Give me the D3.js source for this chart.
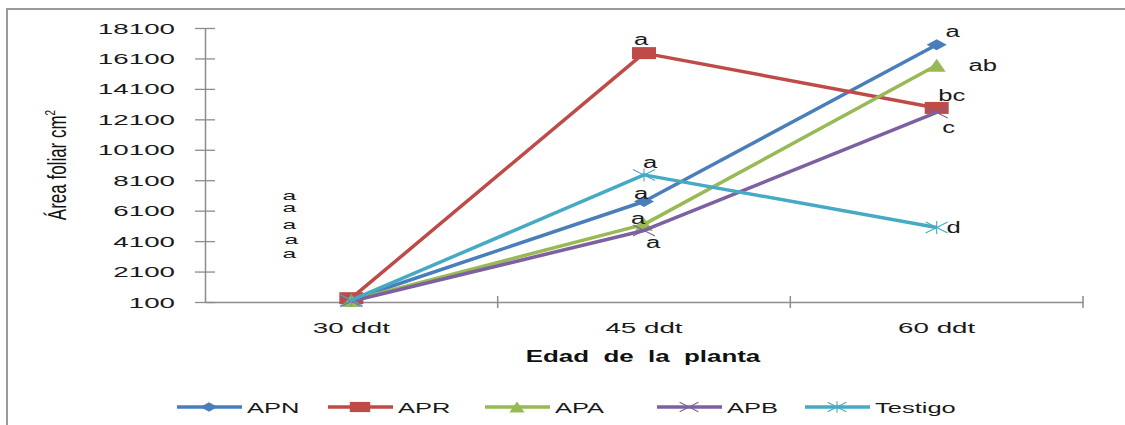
<!DOCTYPE html>
<html>
<head>
<meta charset="utf-8">
<script src="https://cdn.jsdelivr.net/npm/d3@7"></script>
<style>
  html, body { margin: 0; padding: 0; background: #ffffff; }
  svg { display: block; }
  text { white-space: pre; }
</style>
</head>
<body>
<svg id="chart" width="1125" height="425"></svg>
<script>
// ---------------- data ----------------
const categories = ["30 ddt", "45 ddt", "60 ddt"];
const seriesNames = ["APN", "APR", "APA", "APB", "Testigo"];
const APN     = [250, 6700, 17000];
const APR     = [350, 16450, 12850];
const APA     = [200, 5200, 15650];
const APB     = [150, 4800, 12550];
const Testigo = [220, 8450, 5000];
const lettersAPN     = ["a", "a", "a"];
const lettersAPR     = ["a", "a", "bc"];
const lettersAPA     = ["a", "a", "ab"];
const lettersAPB     = ["a", "a", "c"];
const lettersTestigo = ["a", "a", "d"];
const yTickValues = [100, 2100, 4100, 6100, 8100, 10100, 12100, 14100, 16100, 18100];
const yTitle = "Área foliar cm";
const xTitle = "Edad  de  la  planta";

// ---------------- styles / layout ----------------
const colors = { APN: "#4a7ebb", APR: "#be4b48", APA: "#98b954", APB: "#7d60a0", Testigo: "#46aac5" };
const markers = { APN: "diamond", APR: "square", APA: "triangle", APB: "x", Testigo: "star" };
// label offsets (px) relative to each point: [dx, dy] per category
const labelOffsets = {
  APN:     [[-62, -104], [-3, -8],  [16, -13]],
  APR:     [[-62, -90],  [-3, -13], [15, -12]],
  APA:     [[-62, -75],  [-6, -5],  [46, 1]],
  APB:     [[-60, -61],  [9, 13],   [12, 16]],
  Testigo: [[-62, -46],  [6, -12],  [17, 1]]
};
const SX = 1.78; // horizontal stretch of text (original picture is stretched)

const svg = d3.select("#chart");
const axisColor = "#8c8c8c";

// frame
svg.append("path").attr("d", "M7,425 L7,9 L1125,9").attr("fill", "none")
   .attr("stroke", "#9a9a9a").attr("stroke-width", 2);

const x = d3.scaleBand().domain(categories).range([205, 1083]);
const y = d3.scaleLinear().domain([100, 18100]).range([302, 28]);
const cx = c => x(c) + x.bandwidth() / 2;

function stretchedText(g, tx, ty, str, opts) {
  const t = g.append("text")
    .attr("transform", `translate(${tx},${ty}) scale(${opts.sx || SX},1)`)
    .attr("text-anchor", opts.anchor || "middle")
    .attr("font-family", opts.family || "'Liberation Sans', Arial, sans-serif")
    .attr("font-size", opts.size || 15)
    .attr("font-weight", opts.weight || "normal")
    .attr("fill", opts.fill || "#1a1a1a")
    .text(str);
  return t;
}

// y axis
const yAxisG = svg.append("g").attr("transform", "translate(205,0)")
  .call(d3.axisLeft(y).tickValues(yTickValues).tickSize(0).tickFormat(""));
yAxisG.select(".domain").attr("stroke", axisColor).attr("stroke-width", 1.5);
yAxisG.selectAll(".tick").append("line").attr("x1", -10).attr("x2", 10)
  .attr("stroke", axisColor).attr("stroke-width", 1.3);
yTickValues.forEach(v => {
  stretchedText(svg, 175, y(v) + 5.5, d3.format("d")(v), { anchor: "end", size: 15, sx: 1.85 });
});

// x axis
const xAxisG = svg.append("g").attr("transform", "translate(0,302)")
  .call(d3.axisBottom(x).tickSize(0).tickFormat(""));
xAxisG.select(".domain").attr("stroke", axisColor).attr("stroke-width", 1.5);
xAxisG.selectAll(".tick").remove();
const bounds = categories.map(c => x(c)).concat([x(categories[categories.length - 1]) + x.bandwidth()]);
bounds.slice(1).forEach(b => {
  svg.append("line").attr("x1", b).attr("x2", b).attr("y1", 296).attr("y2", 308)
    .attr("stroke", axisColor).attr("stroke-width", 1.5);
});
categories.forEach(c => stretchedText(svg, cx(c), 333, c, { size: 15, sx: 1.85 }));

// axis titles
stretchedText(svg, 643, 362, xTitle, { size: 16, weight: "bold", sx: 1.62, fill: "#111" });
const yt = svg.append("g").attr("transform", "translate(66,165) rotate(-90)");
const ytt = yt.append("text").attr("text-anchor", "middle")
  .attr("transform", "scale(1,1.55)")
  .attr("font-family", "'Liberation Sans Narrow', 'Liberation Sans', Arial, sans-serif")
  .attr("font-size", 17).attr("fill", "#111");
ytt.append("tspan").text(yTitle);
ytt.append("tspan").attr("font-size", 10).attr("dy", -7).text("2");

// markers
function markerPath(type, w, h) {
  const a = w / 2, b = h / 2;
  switch (type) {
    case "diamond": return `M0,${-b}L${a},0L0,${b}L${-a},0Z`;
    case "square": return `M${-a},${-b}H${a}V${b}H${-a}Z`;
    case "triangle": return `M0,${-b}L${a},${b}L${-a},${b}Z`;
    case "x": return `M${-a},${-b}L${a},${b}M${-a},${b}L${a},${-b}`;
    case "star": return `M${-a},${-b}L${a},${b}M${-a},${b}L${a},${-b}M0,${-b - 1}V${b + 1}`;
  }
}
const markerSize = { diamond: [20, 11], square: [24, 12], triangle: [18, 13], x: [22, 11], star: [22, 11] };
function drawMarker(g, name, px, py, scale) {
  const type = markers[name];
  const [w, h] = markerSize[type].map(v => v * (scale || 1));
  const filled = type === "diamond" || type === "square" || type === "triangle";
  g.append("path").attr("d", markerPath(type, w, h))
    .attr("transform", `translate(${px},${py})`)
    .attr("fill", filled ? colors[name] : "none")
    .attr("stroke", colors[name]).attr("stroke-width", filled ? 0 : 1.1);
}

// series
const seriesData = { APN, APR, APA, APB, Testigo };
const seriesLetters = { APN: lettersAPN, APR: lettersAPR, APA: lettersAPA, APB: lettersAPB, Testigo: lettersTestigo };
const line = d3.line().x((d, i) => cx(categories[i])).y(d => y(d));
const plotG = svg.append("g");
seriesNames.forEach(name => {
  const vals = seriesData[name];
  plotG.append("path").datum(vals).attr("d", line).attr("fill", "none")
    .attr("stroke", colors[name]).attr("stroke-width", 3.5).attr("stroke-linejoin", "round");
  vals.forEach((v, i) => drawMarker(plotG, name, cx(categories[i]), y(v)));
});

// letters
const lblG = svg.append("g");
seriesNames.forEach(name => {
  const vals = seriesData[name];
  seriesLetters[name].forEach((l, i) => {
    const [dx, dy] = labelOffsets[name][i];
    const first = i === 0;
    stretchedText(lblG, cx(categories[i]) + dx, y(vals[i]) + dy + (first ? 4 : 5), l,
      { size: first ? 13 : 16, sx: first ? 1.9 : 1.6 });
  });
});

// legend
const legendItems = [
  { name: "APN", x0: 177 }, { name: "APR", x0: 328 }, { name: "APA", x0: 485 },
  { name: "APB", x0: 657 }, { name: "Testigo", x0: 805 }
];
const legY = 407;
legendItems.forEach(it => {
  svg.append("line").attr("x1", it.x0).attr("x2", it.x0 + 65).attr("y1", legY).attr("y2", legY)
    .attr("stroke", colors[it.name]).attr("stroke-width", 3.5);
  drawMarker(svg, it.name, it.x0 + 32, legY, 0.85);
  stretchedText(svg, it.x0 + 70, legY + 5.5, it.name, { anchor: "start", size: 15, sx: 1.7 });
});
</script>
</body>
</html>
